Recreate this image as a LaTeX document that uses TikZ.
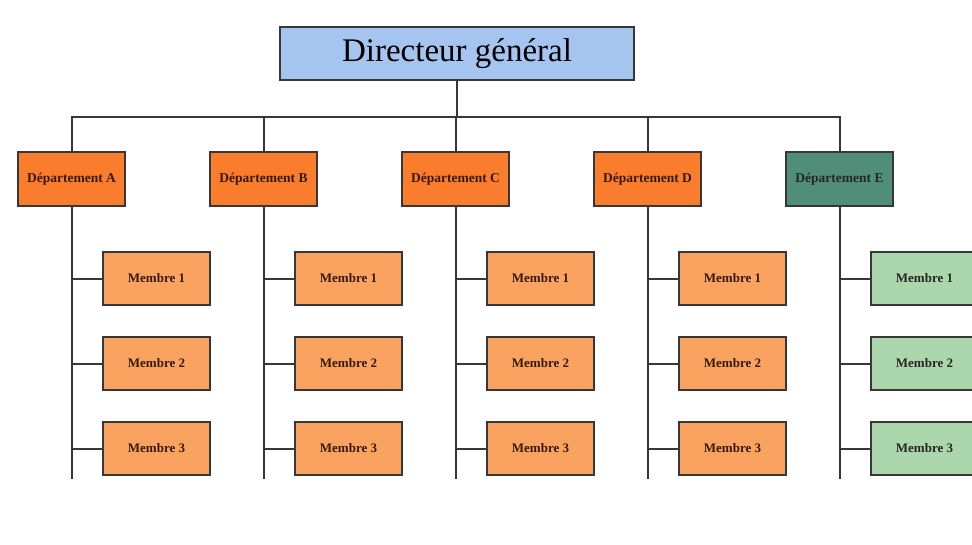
\documentclass[tikz,border=0pt]{standalone}
\usepackage{fontspec}
\setmainfont{Liberation Serif}
\usetikzlibrary{positioning}
\definecolor{dirBlue}{RGB}{166,196,240}
\definecolor{deptOrange}{RGB}{250,125,45}
\definecolor{deptTeal}{RGB}{80,142,122}
\definecolor{memOrange}{RGB}{250,162,96}
\definecolor{memGreen}{RGB}{172,214,172}
\definecolor{lineGray}{RGB}{55,55,55}
\definecolor{textBrown}{RGB}{55,25,10}
\tikzset{
    dirbox/.style={
        draw=lineGray,
        line width=1.6pt,
        fill=dirBlue,
        outer sep=0pt,
        minimum width=354pt,
        minimum height=53pt,
        font=\fontsize{33}{36}\selectfont
    },
    deptbox/.style={
        draw=lineGray,
        line width=1.6pt,
        fill=deptOrange,
        outer sep=0pt,
        minimum width=107pt,
        minimum height=54pt,
        text=textBrown,
        font=\fontsize{13.5}{15}\selectfont\bfseries
    },
    membox/.style={
        draw=lineGray,
        line width=1.6pt,
        fill=memOrange,
        outer sep=0pt,
        minimum width=107pt,
        minimum height=53pt,
        text=textBrown,
        font=\fontsize{13}{15}\selectfont\bfseries
    },
    conn/.style={
        draw=lineGray,
        line width=2pt
    }
}

\begin{document}
\begin{tikzpicture}[x=1pt, y=1pt]
                \useasboundingbox (0,0) rectangle (972,-544);
                \clip (0,0) rectangle (972,-544);

                \node[dirbox] (Dir) at (457,-53.5) {Directeur général};

                % Départements
                \node[deptbox] (A) at (71.5,-179) {Département A};
                \node[deptbox, right=85pt of A] (B) {Département B};
                \node[deptbox, right=85pt of B] (C) {Département C};
                \node[deptbox, right=85pt of C] (D) {Département D};
                \node[deptbox, right=85pt of D, fill=deptTeal, text=black!85] (E) {Département E};

                % Membres
                \node[membox, below=46pt of A, xshift=85pt] (A1) {Membre 1};
                \node[membox, below=32pt of A1] (A2) {Membre 2};
                \node[membox, below=32pt of A2] (A3) {Membre 3};

                \node[membox, below=46pt of B, xshift=85pt] (B1) {Membre 1};
                \node[membox, below=32pt of B1] (B2) {Membre 2};
                \node[membox, below=32pt of B2] (B3) {Membre 3};

                \node[membox, below=46pt of C, xshift=85pt] (C1) {Membre 1};
                \node[membox, below=32pt of C1] (C2) {Membre 2};
                \node[membox, below=32pt of C2] (C3) {Membre 3};

                \node[membox, below=46pt of D, xshift=85pt] (D1) {Membre 1};
                \node[membox, below=32pt of D1] (D2) {Membre 2};
                \node[membox, below=32pt of D2] (D3) {Membre 3};

                \node[membox, below=46pt of E, xshift=85pt, fill=memGreen, text=black!85] (E1) {Membre 1};
                \node[membox, below=32pt of E1, fill=memGreen, text=black!85] (E2) {Membre 2};
                \node[membox, below=32pt of E2, fill=memGreen, text=black!85] (E3) {Membre 3};

                % Liens
                \coordinate (bus) at (457,-117);
                \draw[conn] (Dir.south) -- (bus);
                \draw[conn] (A.north) |- (bus) -| (E.north);
                \draw[conn] (B.north) -- (B.north |- bus);
                \draw[conn] (C.north) -- (C.north |- bus);
                \draw[conn] (D.north) -- (D.north |- bus);

                \draw[conn] (A.south) -- ([yshift=-4pt]A.south |- A3.south)
                    (A1.west) -- (A1.west -| A.south) (A2.west) -- (A2.west -| A.south) (A3.west) -- (A3.west -| A.south);
                \draw[conn] (B.south) -- ([yshift=-4pt]B.south |- B3.south)
                    (B1.west) -- (B1.west -| B.south) (B2.west) -- (B2.west -| B.south) (B3.west) -- (B3.west -| B.south);
                \draw[conn] (C.south) -- ([yshift=-4pt]C.south |- C3.south)
                    (C1.west) -- (C1.west -| C.south) (C2.west) -- (C2.west -| C.south) (C3.west) -- (C3.west -| C.south);
                \draw[conn] (D.south) -- ([yshift=-4pt]D.south |- D3.south)
                    (D1.west) -- (D1.west -| D.south) (D2.west) -- (D2.west -| D.south) (D3.west) -- (D3.west -| D.south);
                \draw[conn] (E.south) -- ([yshift=-4pt]E.south |- E3.south)
                    (E1.west) -- (E1.west -| E.south) (E2.west) -- (E2.west -| E.south) (E3.west) -- (E3.west -| E.south);
            \end{tikzpicture}
\end{document}
